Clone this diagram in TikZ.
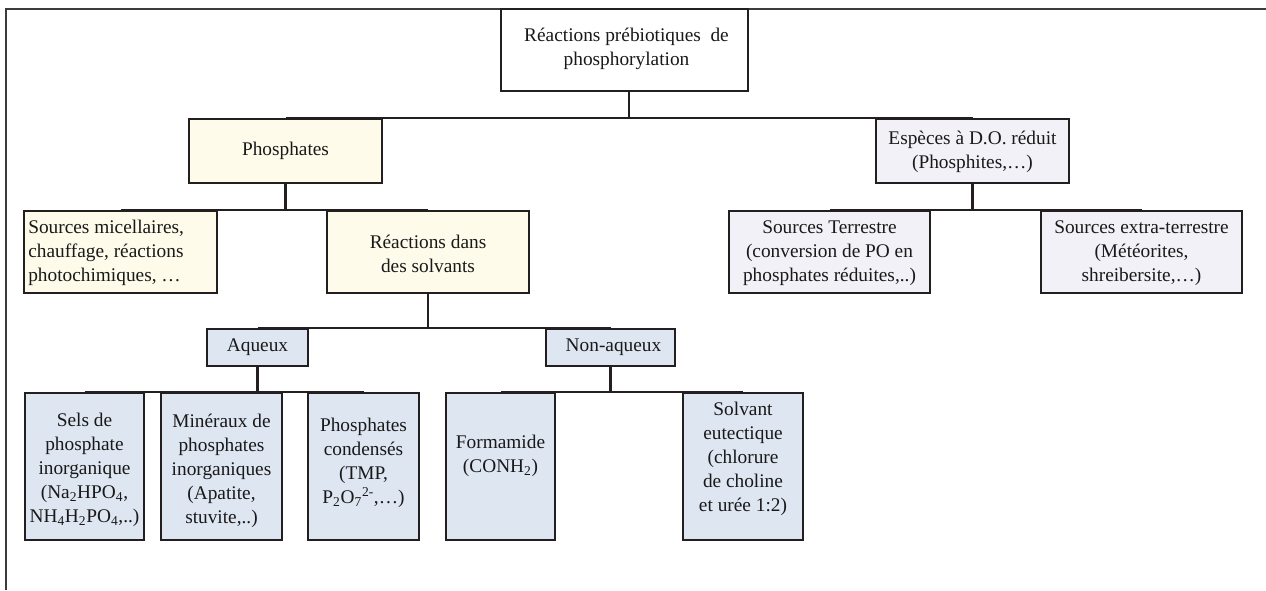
\documentclass[tikz,border=0pt]{standalone}
\usepackage{fontspec}
\setmainfont{Liberation Serif}
\usetikzlibrary{fit,calc}
\definecolor{cream}{RGB}{254,251,235}
\definecolor{lav}{RGB}{243,241,248}
\definecolor{lblue}{RGB}{222,230,242}
\definecolor{edge}{RGB}{35,31,32}
\definecolor{framec}{RGB}{60,60,60}
\begin{document}
\begin{tikzpicture}[x=0.75pt,y=-0.75pt,
  box/.style={draw=edge,line width=1.5pt,inner sep=0pt},
  whitebox/.style={box,fill=white},
  creambox/.style={box,fill=cream},
  lavbox/.style={box,fill=lav},
  bluebox/.style={box,fill=lblue},
  txt/.style={font=\fontsize{14.5}{18}\selectfont,align=center,inner sep=0pt,text=black!90},
  conn/.style={draw=edge,line width=1.6pt},
  framel/.style={draw=framec,line width=1.8pt}]
\useasboundingbox (0,0) rectangle (1266,590);
% partial outer frame
\draw[framel] (6,590) -- (6,9) -- (1266,9);
% boxes
\node[whitebox,fit={(501,9) (748,91)}] (root) {};
\node[creambox,fit={(189,119) (382,183)}] (phos) {};
\node[lavbox,fit={(876,119) (1069,183)}] (esp) {};
\node[creambox,fit={(24,211) (217,293)}] (micel) {};
\node[creambox,fit={(327,211) (529,293)}] (reac) {};
\node[lavbox,fit={(729,211) (930,293)}] (terr) {};
\node[lavbox,fit={(1041,211) (1242,293)}] (extra) {};
\node[bluebox,fit={(207,329) (308,366)}] (aq) {};
\node[bluebox,fit={(546,329) (675,366)}] (naq) {};
\node[bluebox,fit={(25,393) (144,540)}] (sels) {};
\node[bluebox,fit={(161,393) (282,540)}] (mine) {};
\node[bluebox,fit={(308,393) (419,540)}] (cond) {};
\node[bluebox,fit={(446,393) (555,540)}] (form) {};
\node[bluebox,fit={(683,393) (803,540)}] (solv) {};
% connectors
\coordinate (rmid) at ($(phos.north)!0.5!(esp.north)$);
\draw[conn] (root.south -| rmid) -- (rmid);
\draw[conn] (phos.north) -- (esp.north);
\draw[conn] (phos.south) -- (phos.south |- micel.north);
\draw[conn] (micel.north) -- (reac.north);
\draw[conn] (esp.south) -- (esp.south |- terr.north);
\draw[conn] (terr.north) -- (extra.north);
\draw[conn] (reac.south) -- (reac.south |- aq.north);
\draw[conn] (aq.north) -- (naq.north);
\draw[conn] (aq.south) -- (aq.south |- sels.north);
\draw[conn] (sels.north) -- (cond.north);
\draw[conn] (naq.south) -- (naq.south |- form.north);
\draw[conn] (form.north) -- (solv.north);
% texts
\node[txt] (t-root) at ($(root.center)+(2,-1)$) {Réactions prébiotiques \ de\\phosphorylation};
\node[txt] (t-phos) at (phos.center) {Phosphates};
\node[txt] (t-esp) at ($(esp.center)+(0,1)$) {Espèces à D.O. réduit\\(Phosphites,…)};
\node[txt,align=left,anchor=west] (t-micel) at ($(micel.west)+(5,1)$) {Sources micellaires,\\chauffage, réactions\\photochimiques, …};
\node[txt] (t-reac) at ($(reac.center)+(0,2)$) {Réactions dans\\des solvants};
\node[txt] (t-terr) at ($(terr.center)+(0,1)$) {Sources Terrestre\\(conversion de PO en\\phosphates réduites,..)};
\node[txt] (t-extra) at ($(extra.center)+(0,1)$) {Sources extra-terrestre\\(Météorites,\\shreibersite,…)};
\node[txt] (t-aq) at (aq.center) {Aqueux};
\node[txt] (t-naq) at ($(naq.center)+(3,0)$) {Non-aqueux};
\node[txt] (t-sels) at ($(sels.center)+(0,3)$) {Sels de\\phosphate\\inorganique\\(Na\textsubscript{2}HPO\textsubscript{4},\\NH\textsubscript{4}H\textsubscript{2}PO\textsubscript{4},..)};
\node[txt] (t-mine) at ($(mine.center)+(0,4)$) {Minéraux de\\phosphates\\inorganiques\\(Apatite,\\stuvite,..)};
\node[txt] (t-cond) at ($(cond.center)+(0,-4)$) {Phosphates\\condensés\\(TMP,\\P\textsubscript{2}O\textsubscript{7}\textsuperscript{2-},…)};
\node[txt] (t-form) at ($(form.center)+(0,-11)$) {Formamide\\(CONH\textsubscript{2})};
\node[txt] (t-solv) at ($(solv.center)+(0,-8)$) {Solvant\\eutectique\\(chlorure\\de choline\\et urée 1:2)};
\end{tikzpicture}
\end{document}
